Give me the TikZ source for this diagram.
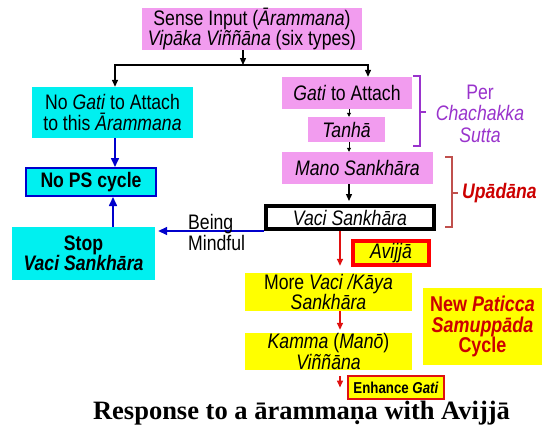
\documentclass[tikz,border=0pt]{standalone}
\usepackage{fontspec}
\setmainfont{Liberation Sans}[FakeStretch=0.84]
\newfontfamily\titlefont{Liberation Serif}
\usetikzlibrary{arrows.meta}
\definecolor{boxpink}{HTML}{F29CEF}
\definecolor{boxcyan}{HTML}{00F0F0}
\definecolor{boxyellow}{HTML}{FFFF00}
\definecolor{linkblue}{HTML}{0000CC}
\definecolor{linkred}{HTML}{E01010}
\definecolor{brpurple}{HTML}{9933CC}
\definecolor{brred}{HTML}{C0504D}
\definecolor{txtred}{HTML}{CC0000}

\begin{document}
\begin{tikzpicture}[x=1pt, y=-1pt,
	every node/.style={font=\fontsize{21}{20.5}\selectfont, inner sep=0pt, align=center},
	pinkbox/.style={fill=boxpink},
	cyanbox/.style={fill=boxcyan},
	yellowbox/.style={fill=boxyellow},
	blk/.style={-{Triangle[length=7pt,width=6pt]}, line width=1.3pt},
	blksmall/.style={-{Triangle[length=4pt,width=4pt]}, line width=0.8pt},
	blu/.style={-{Triangle[length=9pt,width=8pt]}, line width=1.6pt, draw=linkblue, fill=linkblue},
	rd/.style={-{Triangle[length=7pt,width=6pt]}, line width=1.5pt, draw=linkred, fill=linkred},
	]
	\useasboundingbox (0,0) rectangle (544,439);
	
	% Sense input
	\node[pinkbox, minimum width=220, minimum height=42] (sense) at (252,29)
		{Sense Input (\textit{Ārammana})\\\textit{Vipāka Viññāna} (six types)};
	
	% Left branch
	\node[cyanbox, minimum width=161, minimum height=51] (nogati) at (112.5,112.5)
		{No \textit{Gati} to Attach\\to this \textit{Ārammana}};
	\node[cyanbox, draw=linkblue, line width=2pt, minimum width=130, minimum height=28] (nops) at (91,182)
		{\bfseries No PS cycle};
	\node[cyanbox, minimum width=143, minimum height=53] (stop) at (83.5,253.5)
		{\bfseries Stop\\\bfseries\itshape Vaci Sankhāra};
	
	% Right branch
	\node[pinkbox, minimum width=130, minimum height=32] (gati) at (347,93) {\textit{Gati} to Attach};
	\node[pinkbox, minimum width=77, minimum height=25] (tanha) at (346.5,129.5) {\textit{Tanhā}};
	\node[pinkbox, minimum width=151, minimum height=32] (mano) at (357.5,168) {\textit{Mano Sankhāra}};
	\node[fill=white, draw=black, line width=4pt, minimum width=168, minimum height=23] (vaci) at (350,217.5)
		{\textit{Vaci Sankhāra}};
	\node[yellowbox, draw=red, line width=3.5pt, minimum width=76, minimum height=24] (avijja) at (391,253)
		{\textit{Avijjā}};
	\node[yellowbox, minimum width=167, minimum height=38] (morevaci) at (328.5,292)
		{More \textit{Vaci /Kāya}\\\textit{Sankhāra}};
	\node[yellowbox, minimum width=167, minimum height=37] (kamma) at (328.5,351.5)
		{\textit{Kamma} (\textit{Manō})\\\textit{Viññāna}};
	\node[yellowbox, draw=linkred, line width=2pt, minimum width=96, minimum height=23,
		font=\fontsize{15.8}{17}\selectfont\bfseries] (enhance) at (396,387.5) {Enhance \textit{Gati}};
	\node[yellowbox, minimum width=119, minimum height=77, text=txtred,
		font=\fontsize{21.4}{20.5}\selectfont\bfseries] (newps) at (482.5,326.5)
		{New \textit{Paticca}\\\textit{Samuppāda}\\Cycle};
	
	% Split from sense input
	\coordinate (jmid) at (243,65);
	\coordinate (jl) at (115,65);
	\coordinate (jr) at (368,65);
	\draw[blk] (sense.south -| jmid) -- (jmid);
	\draw[blk] (jmid) -| (jl |- nogati.north);
	\draw[blk] (jmid) -| (jr |- gati.north);
	
	% Chain on the right
	\coordinate (cx) at (349,0);
	\draw[blksmall] (gati.south -| cx) -- (tanha.north -| cx);
	\draw[blksmall] (tanha.south -| cx) -- (mano.north -| cx);
	\draw[blk, shorten >=3pt] (mano.south -| cx) -- (vaci.north -| cx);
	
	\coordinate (rx) at (340,0);
	\draw[rd, shorten >=7pt] (vaci.south -| rx) -- (morevaci.north -| rx);
	\draw[rd, shorten >=3pt] (morevaci.south -| rx) -- (kamma.north -| rx);
	\draw[rd, shorten <=6pt] (kamma.south -| rx) -- (enhance.west -| rx);
	
	% Blue links
	\draw[blu] (nogati.south -| jl) -- (nops.north -| jl);
	\coordinate (bx) at (113,0);
	\draw[blu] (stop.north -| bx) -- (nops.south -| bx);
	\draw[blu, shorten >=3pt] (vaci.south west) -- (vaci.south west -| stop.east);
	\node[anchor=west, align=left] (mindful) at (188,232.5) {Being\\Mindful};
	
	% Brackets
	\draw[brpurple, line width=1.3pt] (413,76) -- (420,76) -- (420,146) -- (413,146)
		(420,112) -- (426,112);
	\node[text=brpurple, font=\fontsize{21}{21.5}\selectfont] (chachakka) at (480,113.5)
		{Per\\\textit{Chachakka}\\\textit{Sutta}};
	\draw[brred, line width=1.3pt] (445,157) -- (452,157) -- (452,227) -- (445,227)
		(452,193) -- (458,193);
	\node[anchor=west, text=txtred, font=\fontsize{21}{20.5}\selectfont\bfseries\itshape] (upadana) at (462,193)
		{Upādāna};
	
	% Title
	\node[anchor=base, font=\titlefont\bfseries\fontsize{26.5}{30}\selectfont] (title) at (301.5,419)
		{Response to a ārammaṇa with Avijjā};
\end{tikzpicture}
\end{document}
